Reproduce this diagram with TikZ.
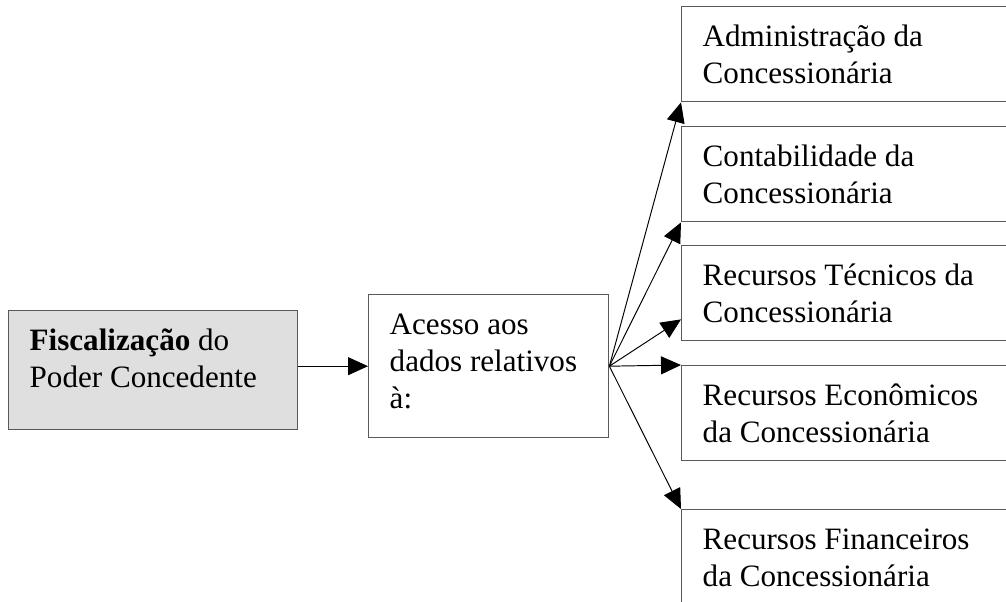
\documentclass[tikz,border=0pt]{standalone}
\usepackage{fontspec}
\setmainfont{Liberation Serif}
\usetikzlibrary{arrows.meta}
\tikzset{
    every node/.style={anchor=north west, inner xsep=0.42cm, inner ysep=0pt,
    	font=\fontsize{17.7pt}{21pt}\selectfont}
}
\tikzset{
    caixa/.style={draw=black!65, line width=0.8pt},
    seta/.style={-{Triangle[length=0.4cm, width=0.36cm]}, line width=0.55pt}
}
% texto no topo da caixa: altura, largura, texto
\newcommand{\textocaixa}[3]{\parbox[c][#1][t]{#2}{\raggedright\rule{0pt}{0.8cm}#3}}

\begin{document}
\begin{tikzpicture}[x=0.02cm, y=-0.02cm]
	\useasboundingbox (0,0) rectangle (1006,601);
	\clip (0,0) rectangle (1006,601);
	\node (fisc) [caixa, fill=gray!25] at (8,310) {\textocaixa{2.38cm}{4.94cm}{\textbf{Fiscalização} do\\Poder Concedente}};
	\node (acesso) [caixa] at (368,294) {\textocaixa{2.86cm}{3.96cm}{Acesso aos\\dados relativos\\à:}};
	\node (adm) [caixa] at (681,6) {\textocaixa{1.9cm}{5.84cm}{Administração da\\Concessionária}};
	\node (cont) [caixa] at (681,126) {\textocaixa{1.9cm}{5.84cm}{Contabilidade da\\Concessionária}};
	\node (tec) [caixa] at (681,245) {\textocaixa{1.9cm}{5.84cm}{Recursos Técnicos da\\Concessionária}};
	\node (econ) [caixa] at (681,365) {\textocaixa{1.9cm}{5.84cm}{Recursos Econômicos\\da Concessionária}};
	\node (fin) [caixa] at (681,509) {\textocaixa{1.9cm}{5.84cm}{Recursos Financeiros\\da Concessionária}};
	
	\draw [seta] (fisc.east |- acesso.west) -- (acesso.west);
	
	\draw [seta] (acesso.east) -- (adm.south west);
	\draw [seta] (acesso.east) -- (cont.south west);
	\draw [seta] (acesso.east) -- ([yshift=0.44cm]tec.south west);
	\draw [seta] (acesso.east) -- (econ.north west);
	\draw [seta] (acesso.east) -- (fin.north west);
\end{tikzpicture}
\end{document}
